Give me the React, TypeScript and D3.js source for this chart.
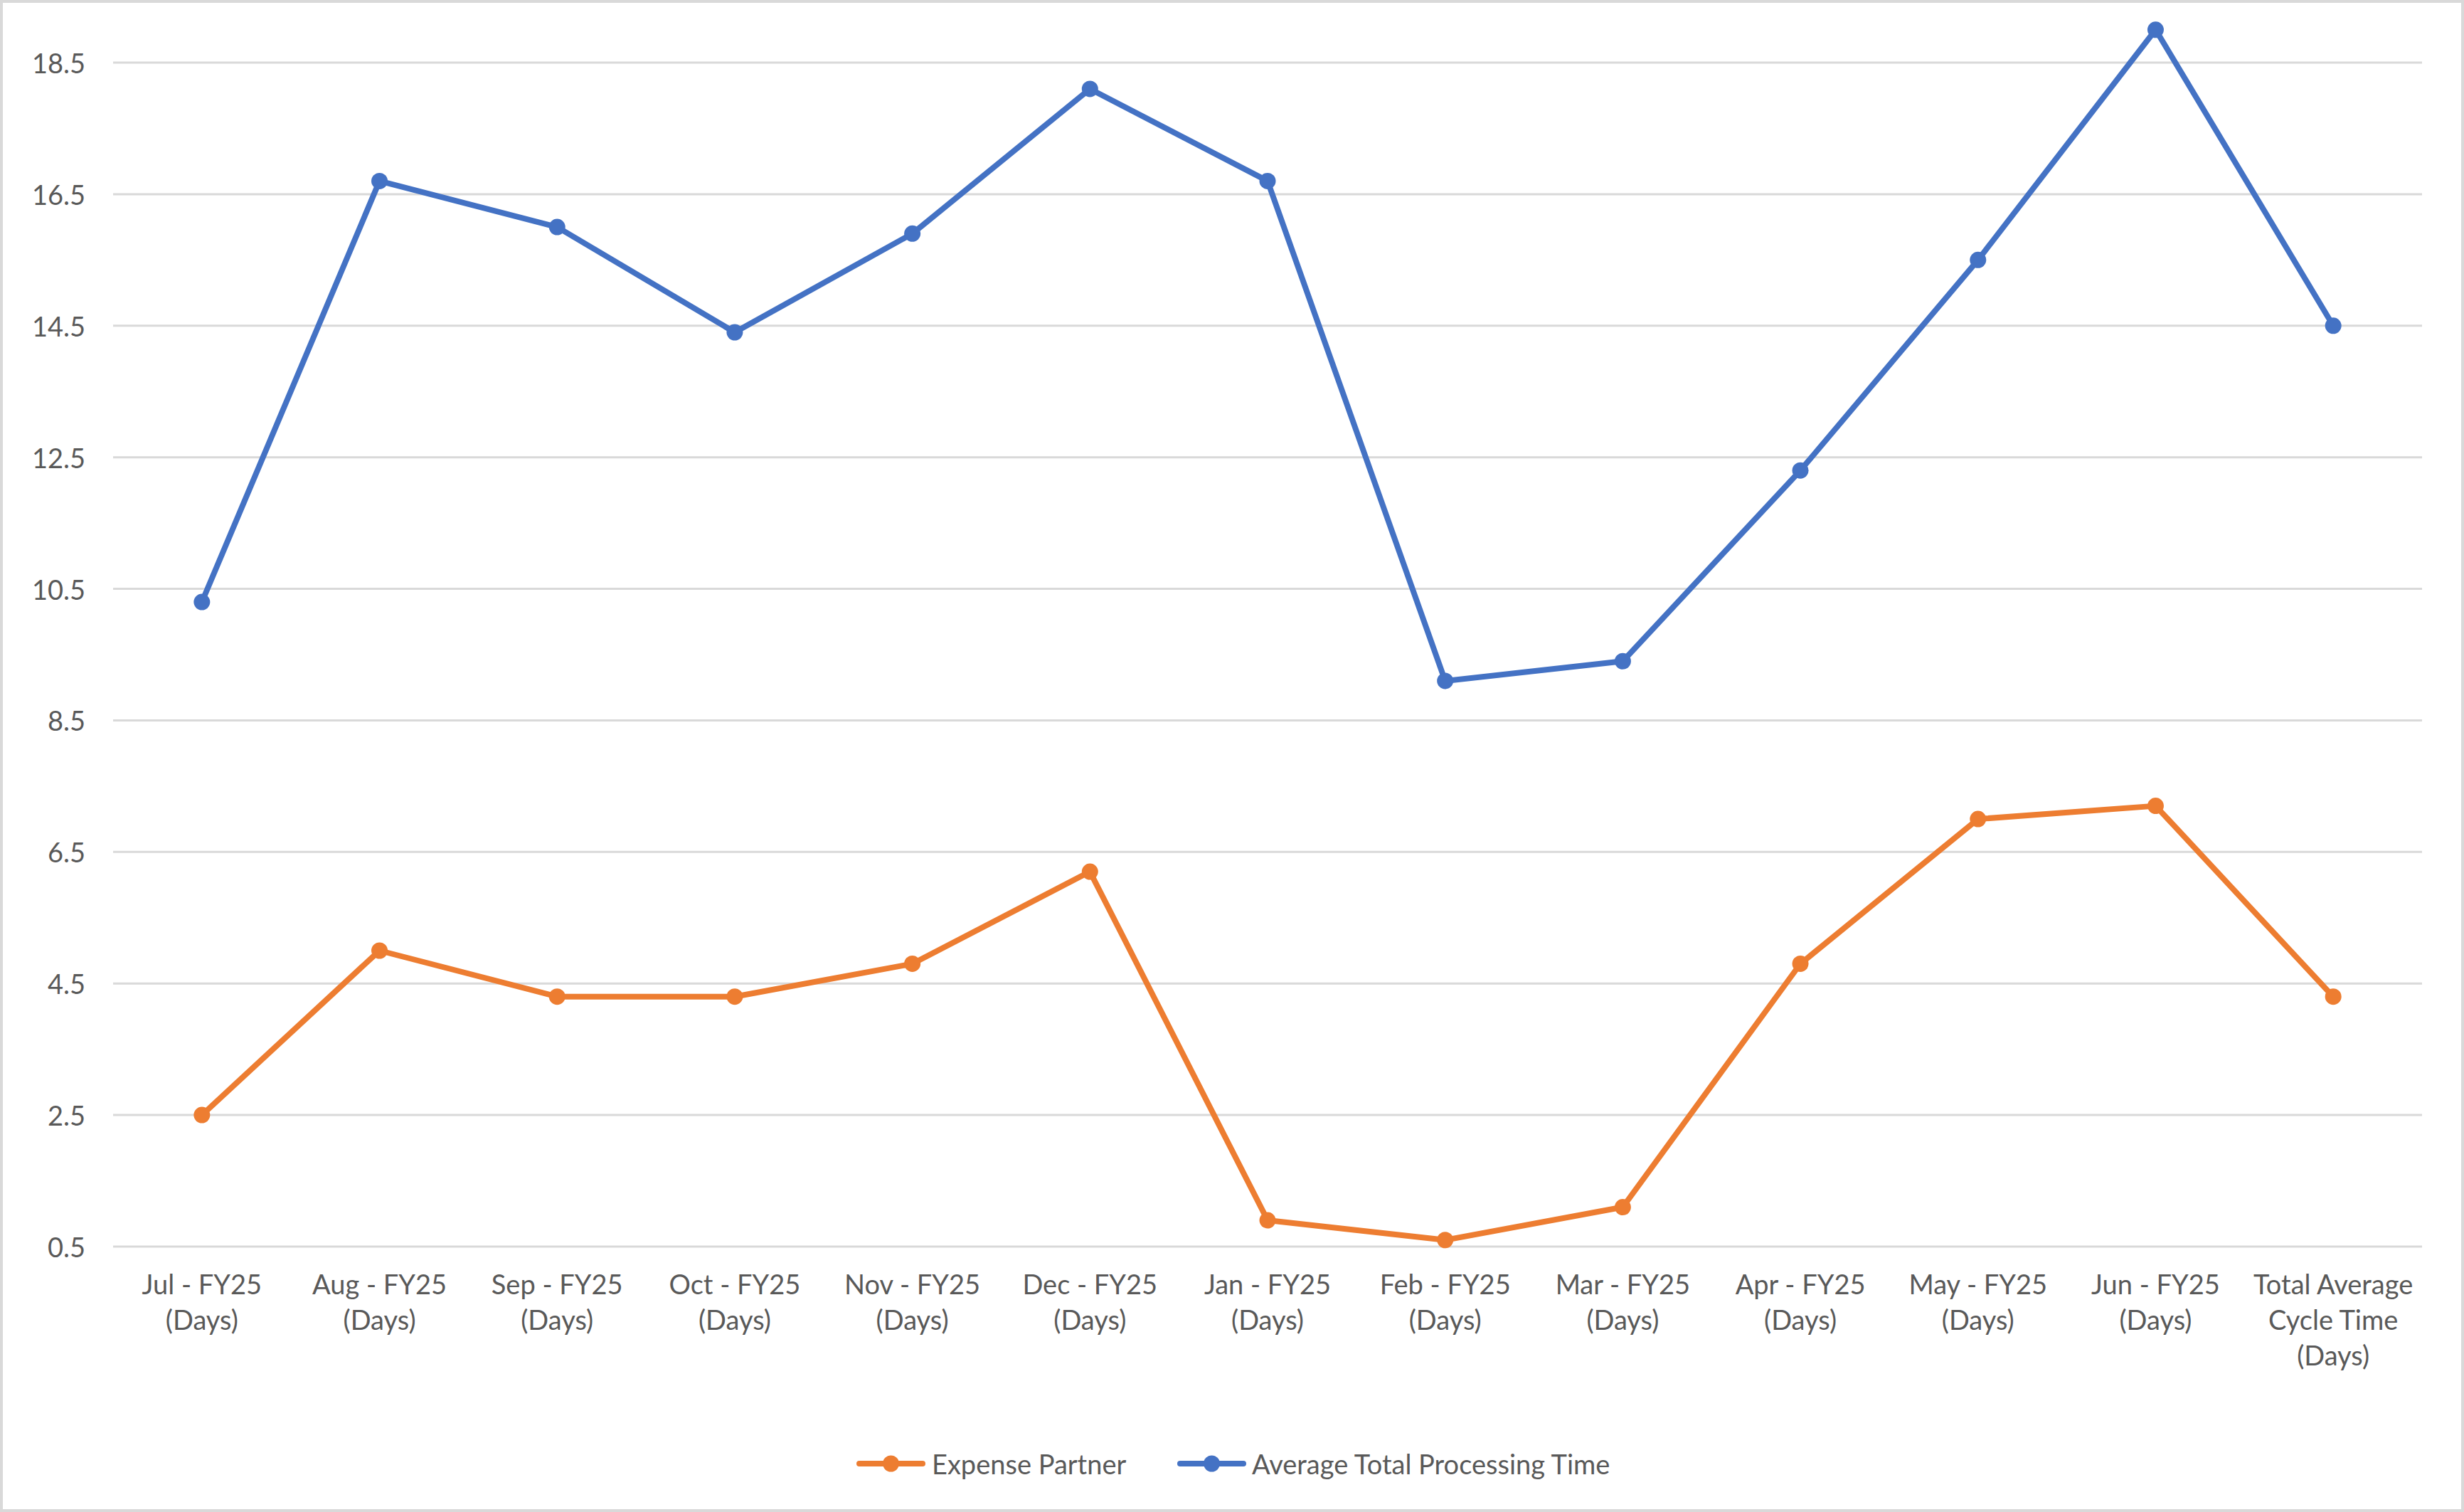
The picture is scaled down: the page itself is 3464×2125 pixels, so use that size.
import React from "react";
import * as d3 from "d3";

const categories: string[] = [
  "Jul - FY25\n(Days)",
  "Aug - FY25\n(Days)",
  "Sep - FY25\n(Days)",
  "Oct - FY25\n(Days)",
  "Nov - FY25\n(Days)",
  "Dec - FY25\n(Days)",
  "Jan - FY25\n(Days)",
  "Feb - FY25\n(Days)",
  "Mar - FY25\n(Days)",
  "Apr - FY25\n(Days)",
  "May - FY25\n(Days)",
  "Jun - FY25\n(Days)",
  "Total Average\nCycle Time\n(Days)",
];

const expensePartner: number[] = [2.5, 5.0, 4.3, 4.3, 4.8, 6.2, 0.9, 0.6, 1.1, 4.8, 7.0, 7.2, 4.3];
const avgTotalProcessing: number[] = [10.3, 16.7, 16.0, 14.4, 15.9, 18.1, 16.7, 9.1, 9.4, 12.3, 15.5, 19.0, 14.5];

const yTicks: number[] = [0.5, 2.5, 4.5, 6.5, 8.5, 10.5, 12.5, 14.5, 16.5, 18.5];

const seriesNames: string[] = ["Expense Partner", "Average Total Processing Time"];
const seriesColors: string[] = ["#ED7D31", "#4472C4"];

const W = 3464;
const H = 2125;
const FONT = "Lato, 'Open Sans', sans-serif";
const TEXT = "#595959";

export default function App() {
  const x = d3.scalePoint<string>().domain(categories).range([159, 3405]).padding(0.5);
  const y = d3.scaleLinear().domain([0.5, 18.5]).range([1752, 88]);

  const series = [
    { name: seriesNames[0], color: seriesColors[0], values: expensePartner },
    { name: seriesNames[1], color: seriesColors[1], values: avgTotalProcessing },
  ];

  const line = d3
    .line<number>()
    .x((_, i) => x(categories[i]) as number)
    .y((d) => y(d));

  const legendItems = [
    { x0: 1208, textX: 1310 },
    { x0: 1659, textX: 1760 },
  ];
  const legendY = 2057;

  return (
    <svg
      width={W}
      height={H}
      style={{ position: "absolute", left: 0, top: 0, display: "block", background: "#fff" }}
      fontFamily={FONT}
    >
      <rect x={2} y={2} width={W - 4} height={H - 4} fill="#fff" stroke="#D9D9D9" strokeWidth={4} />
      {yTicks.map((t) => (
        <line key={"g" + t} x1={159} x2={3405} y1={y(t)} y2={y(t)} stroke="#D9D9D9" strokeWidth={3} />
      ))}
      {yTicks.map((t) => (
        <text
          key={"yl" + t}
          x={120}
          y={y(t)}
          textAnchor="end"
          dominantBaseline="central"
          fontSize={38}
          fill={TEXT}
        >
          {t.toFixed(1)}
        </text>
      ))}
      {categories.map((c) => (
        <text key={"xl" + c} x={x(c)} y={1804} textAnchor="middle" fontSize={38} fill={TEXT}>
          {c.split("\n").map((ln, j) => (
            <tspan key={j} x={x(c)} y={1804 + j * 50} dominantBaseline="central">
              {ln}
            </tspan>
          ))}
        </text>
      ))}
      {series.map((s) => (
        <g key={s.name}>
          <path
            d={line(s.values) || ""}
            fill="none"
            stroke={s.color}
            strokeWidth={8}
            strokeLinejoin="round"
            strokeLinecap="round"
          />
          {s.values.map((v, i) => (
            <circle key={i} cx={x(categories[i])} cy={y(v)} r={11.5} fill={s.color} />
          ))}
        </g>
      ))}
      {series.map((s, i) => (
        <g key={"lg" + s.name}>
          <line
            x1={legendItems[i].x0}
            x2={legendItems[i].x0 + 89}
            y1={legendY}
            y2={legendY}
            stroke={s.color}
            strokeWidth={8}
            strokeLinecap="round"
          />
          <circle cx={legendItems[i].x0 + 44.5} cy={legendY} r={11.5} fill={s.color} />
          <text
            x={legendItems[i].textX}
            y={legendY}
            dominantBaseline="central"
            fontSize={38}
            fill={TEXT}
          >
            {s.name}
          </text>
        </g>
      ))}
    </svg>
  );
}
